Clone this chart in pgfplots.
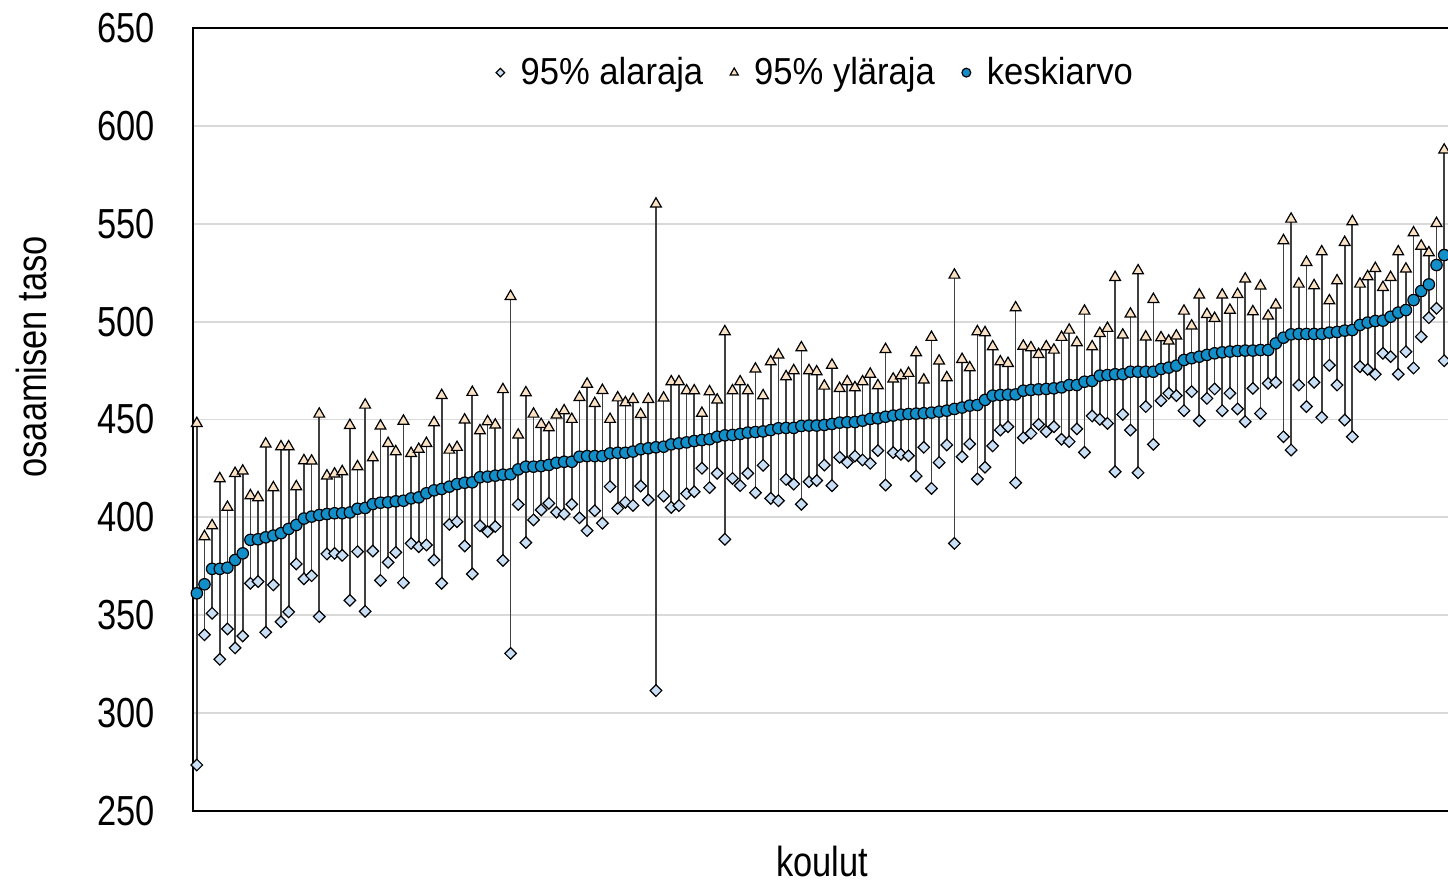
\documentclass[border=0pt]{standalone}
\usepackage{pgfplots}
\pgfplotsset{compat=1.18}
\usepackage{pgfplotstable}
\usepackage{fontspec}
\setmainfont{Liberation Sans}[FakeStretch=0.82]
\newfontfamily\legfont{Liberation Sans}[FakeStretch=0.92]
\definecolor{meanblue}{RGB}{18,143,201}
\definecolor{loblue}{RGB}{200,223,246}
\definecolor{uppeach}{RGB}{252,226,196}
\definecolor{gridgray}{RGB}{217,217,217}
\definecolor{linegray}{RGB}{64,64,64}
\pgfplotsset{
  legimg/.style={legend image code/.code={\draw[##1, mark size=#1] plot coordinates {(0pt,0pt)};}}
}

\pgfplotstableread{
x l m u
1 273.5 361.2 448.0
2 340.0 365.8 390.2
3 351.0 373.7 395.8
4 327.5 373.7 419.8
5 343.0 374.3 405.2
6 333.3 378.2 422.5
7 339.4 381.6 423.7
8 366.3 388.5 411.1
9 367.2 388.8 410.1
10 341.3 389.8 437.5
11 365.5 390.7 415.2
12 346.7 391.9 436.1
13 351.7 394.1 436.1
14 376.2 396.1 415.7
15 368.6 399.4 429.0
16 370.2 400.4 428.8
17 349.3 401.2 452.8
18 381.3 401.7 421.2
19 381.6 402.1 422.2
20 380.6 402.1 423.4
21 357.6 402.5 447.0
22 382.5 404.4 425.9
23 352.0 404.8 457.4
24 382.8 406.8 430.5
25 367.8 407.5 446.7
26 377.0 407.7 437.8
27 382.1 408.2 433.6
28 366.6 408.5 449.2
29 386.7 409.7 432.7
30 385.0 410.2 434.8
31 385.9 412.3 437.8
32 378.2 413.8 448.4
33 366.3 414.5 462.3
34 396.4 415.7 434.4
35 397.8 417.0 435.8
36 385.4 417.7 449.8
37 371.1 417.9 463.9
38 395.7 420.5 444.3
39 392.7 420.8 448.9
40 395.3 421.3 447.2
41 378.0 421.8 465.3
42 330.5 422.0 512.9
43 406.6 424.5 442.1
44 387.1 425.9 463.7
45 398.7 425.9 452.8
46 403.8 426.2 447.5
47 407.2 426.8 445.8
48 402.6 427.9 452.3
49 401.7 428.4 454.5
50 406.7 428.4 450.1
51 399.8 431.0 461.3
52 393.2 431.3 468.1
53 403.4 431.3 458.2
54 397.0 431.3 464.9
55 415.7 432.7 450.1
56 404.6 433.0 461.1
57 407.7 433.0 458.6
58 406.1 433.6 460.3
59 416.0 434.8 452.6
60 408.9 435.3 460.3
61 311.5 435.8 560.1
62 410.9 436.1 461.0
63 405.1 437.3 469.3
64 406.0 437.8 469.3
65 412.1 438.3 464.7
66 413.1 439.0 464.7
67 425.1 439.5 453.2
68 415.2 439.9 464.2
69 422.5 441.2 460.0
70 388.8 441.9 494.9
71 419.9 442.1 464.7
72 416.2 442.6 469.3
73 422.5 443.3 464.7
74 412.6 443.6 475.8
75 426.6 443.9 462.2
76 409.7 444.6 479.5
77 408.5 445.5 483.0
78 419.4 445.7 471.9
79 417.0 445.7 475.0
80 406.7 446.7 486.7
81 418.2 446.9 475.0
82 418.8 446.9 474.4
83 426.7 447.2 467.1
84 416.2 447.7 477.8
85 430.7 448.4 465.9
86 428.1 448.6 469.3
87 431.3 448.7 466.3
88 429.3 449.4 469.3
89 427.6 450.3 473.2
90 434.1 450.6 467.3
91 416.5 451.4 485.8
92 433.1 452.0 470.7
93 432.2 452.5 472.4
94 431.5 452.8 473.6
95 421.1 453.0 484.1
96 435.8 453.2 470.2
97 414.8 453.5 492.0
98 428.0 454.0 479.9
99 437.0 454.5 471.4
100 386.7 455.4 523.8
101 431.0 456.1 480.7
102 437.5 457.1 476.5
103 419.6 457.4 494.9
104 425.6 460.0 494.4
105 436.5 462.2 487.2
106 444.6 462.5 479.5
107 446.3 462.7 478.7
108 417.7 462.8 507.1
109 440.7 464.7 487.5
110 442.9 465.1 486.7
111 447.5 465.4 483.3
112 443.8 465.6 487.2
113 446.3 465.9 485.5
114 439.9 466.4 492.0
115 438.7 467.6 495.7
116 445.2 467.6 489.3
117 433.2 469.3 505.4
118 451.8 469.7 487.2
119 450.1 472.4 494.0
120 448.0 472.7 496.6
121 423.3 473.1 522.6
122 452.6 473.1 493.2
123 444.6 474.4 503.9
124 422.8 474.4 526.0
125 456.6 474.4 492.2
126 437.3 474.4 511.4
127 459.6 475.8 491.8
128 463.4 476.5 490.1
129 462.2 477.5 492.7
130 454.5 480.4 505.4
131 464.2 481.3 497.8
132 449.4 482.1 513.6
133 460.8 483.0 503.7
134 465.6 483.8 501.7
135 454.5 484.3 513.6
136 463.4 484.7 505.9
137 455.4 485.0 513.9
138 448.9 485.2 521.8
139 465.9 485.2 505.1
140 453.1 485.5 518.2
141 468.5 485.5 502.9
142 469.0 488.9 508.5
143 441.2 491.8 541.4
144 434.4 493.5 552.4
145 467.6 493.7 519.2
146 456.6 493.7 530.3
147 469.0 493.7 518.4
148 451.1 493.7 535.7
149 477.7 494.4 510.7
150 467.6 494.7 520.9
151 449.7 495.4 540.5
152 441.2 495.7 551.1
153 477.0 498.3 519.2
154 475.6 499.5 523.0
155 473.1 500.3 527.2
156 483.8 500.5 517.5
157 482.1 502.5 522.6
158 473.1 504.6 535.7
159 484.6 505.9 526.9
160 476.3 511.0 545.4
161 492.3 515.6 538.6
162 502.0 519.0 535.2
163 506.8 528.9 550.2
164 480.0 534.0 587.7
}\data

\begin{document}
\begin{tikzpicture}
\begin{axis}[
  name=ax, at={(0,0)}, anchor=south west,
  scale only axis, width=627.5pt, height=391.5pt,
  xmin=0.5, xmax=164.5, ymin=250, ymax=650,
  xtick=\empty, ytick={250,300,...,650},
  ymajorgrids, grid style={gridgray, line width=0.9pt},
  axis line style={draw=none}, major tick length=0pt,
  /pgf/number format/assume math mode=true,
  yticklabel style={font=\fontsize{21}{21}\selectfont, inner sep=0pt, xshift=-19pt, anchor=east},
  clip=false,
  legend style={at={(rel axis cs:0.4952,0.9430)}, anchor=center, draw=none, fill=none,
    legend columns=3, column sep=0pt,
    nodes={inner sep=0pt, font=\legfont\fontsize{18.8}{18.8}\selectfont},
    /tikz/every odd column/.append style={column sep=8pt},
    /tikz/every even column/.append style={column sep=13.5pt}},
]
\draw[black, line width=1pt] (rel axis cs:1,1) -- (rel axis cs:0,1) -- (rel axis cs:0,0) -- (rel axis cs:1,0);

\addplot[draw=none, mark=none, forget plot,
  error bars/.cd, y dir=both, y explicit, error mark=none,
  error bar style={draw=linegray, line width=0.85pt}]
  table[x=x, y=m, y error plus expr=\thisrow{u}-\thisrow{m}, y error minus expr=\thisrow{m}-\thisrow{l}] {\data};

\addplot[only marks, mark=square*, mark size=2.05pt,
  mark options={rotate=45, fill=loblue, draw=black, line width=0.6pt},
  legimg=1.5pt]
  table[x=x, y=l] {\data};
\addlegendentry{95\% alaraja}

\addplot[only marks, mark=triangle*, mark size=3.1pt,
  mark options={fill=uppeach, draw=black, line width=0.6pt},
  legimg=2.3pt]
  table[x=x, y=u] {\data};
\addlegendentry{95\% yläraja}

\addplot[only marks, mark=*, mark size=2.85pt,
  mark options={fill=meanblue, draw=black, line width=0.6pt},
  legimg=2.2pt]
  table[x=x, y=m] {\data};
\addlegendentry{keskiarvo}
\end{axis}
\node[rotate=90, inner sep=0pt, font=\fontsize{21}{21}\selectfont] at (-80.75pt,227.1pt) {osaamisen taso};
\node[inner sep=0pt, font=\fontsize{21}{21}\selectfont] at (314.5pt,-25.25pt) {koulut};
\pgfresetboundingbox
\useasboundingbox (-96.5pt,-36pt) rectangle (627.5pt,405.5pt);
\end{tikzpicture}
\end{document}
